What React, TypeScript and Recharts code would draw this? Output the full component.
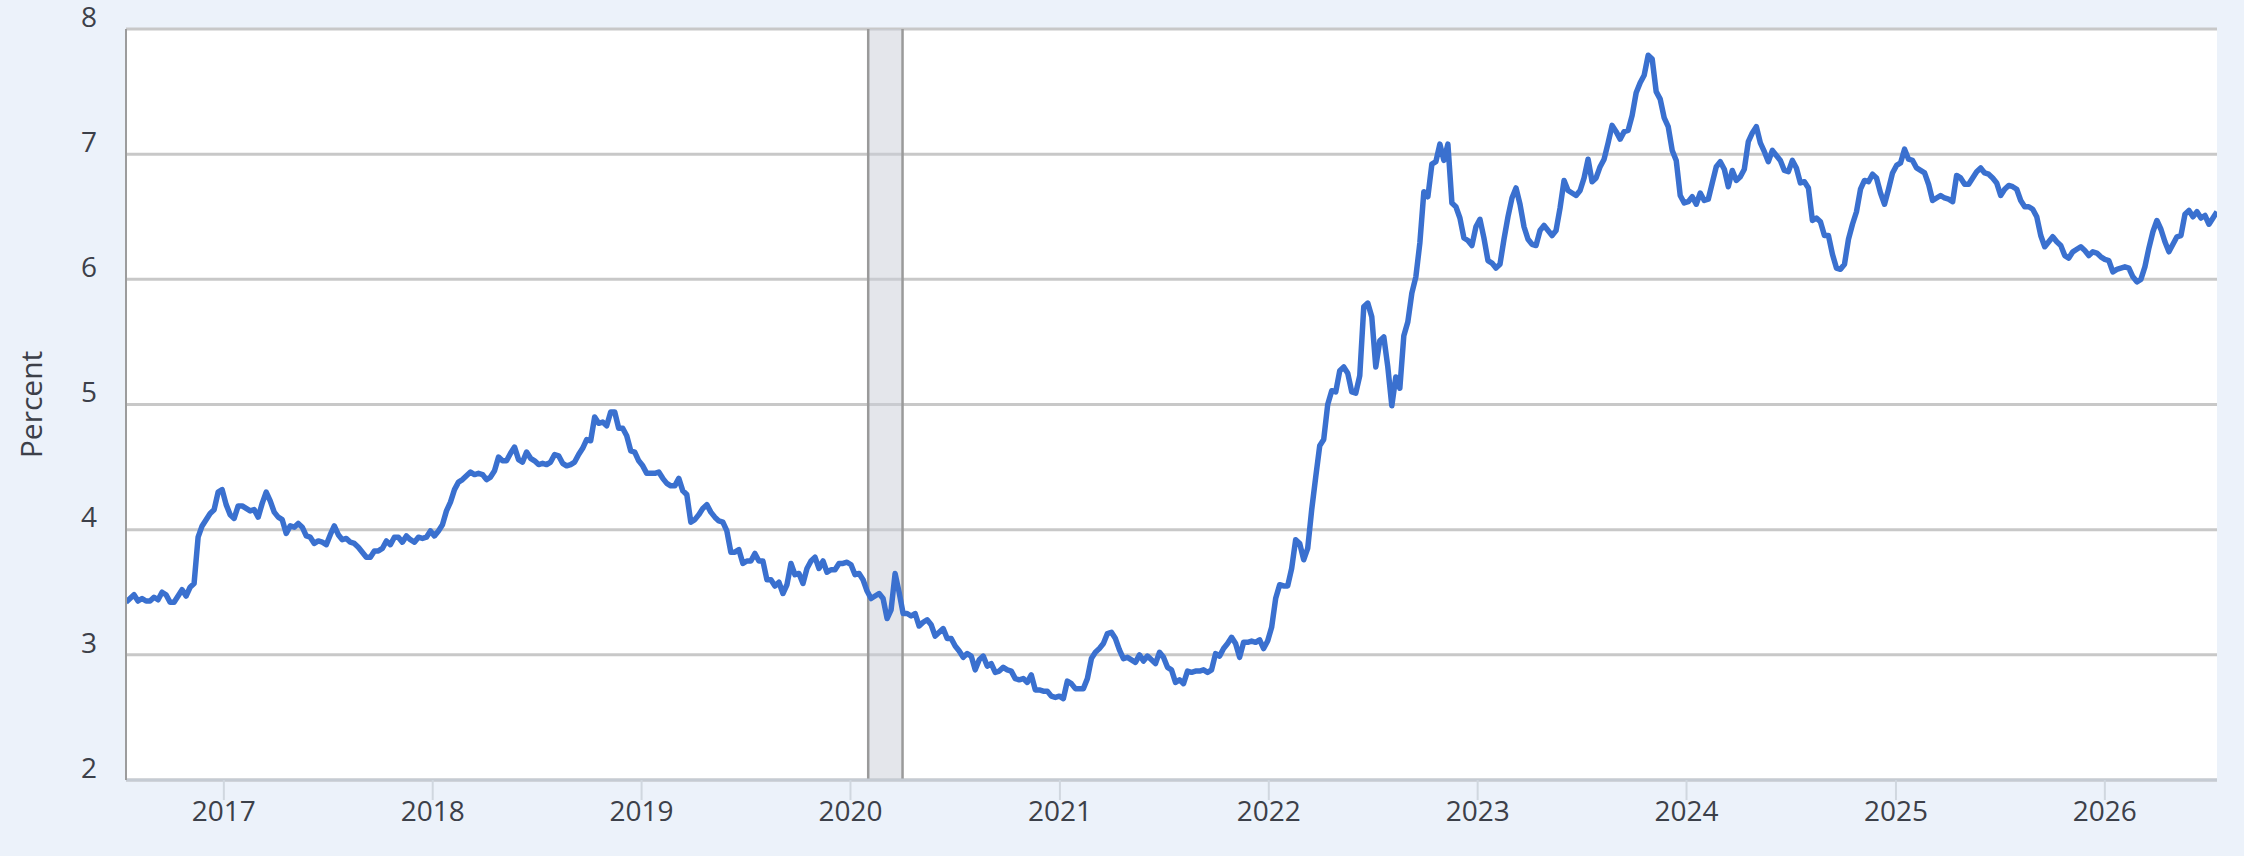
import {
  CartesianGrid,
  Line,
  LineChart,
  ReferenceArea,
  ReferenceLine,
  XAxis,
  YAxis,
} from "recharts";

// weekly 30-year fixed mortgage rate, percent (one array per calendar year)
const rates2016 = [
  3.42, 3.45, 3.48, 3.43, 3.45, 3.43, 3.43, 3.46, 3.44, 3.5, 3.48, 3.42, 3.42,
  3.47, 3.52, 3.47, 3.54, 3.57, 3.94, 4.03, 4.08, 4.13, 4.16, 4.3, 4.32,
];
const rates2017 = [
  4.2, 4.12, 4.09, 4.19, 4.19, 4.17, 4.15, 4.16, 4.1, 4.21, 4.3, 4.23, 4.14,
  4.1, 4.08, 3.97, 4.03, 4.02, 4.05, 4.02, 3.95, 3.94, 3.89, 3.91, 3.9, 3.88,
  3.96, 4.03, 3.96, 3.92, 3.93, 3.9, 3.89, 3.86, 3.82, 3.78, 3.78, 3.83, 3.83,
  3.85, 3.91, 3.88, 3.94, 3.94, 3.9, 3.95, 3.92, 3.9, 3.94, 3.93, 3.94, 3.99,
];
const rates2018 = [
  3.95, 3.99, 4.04, 4.15, 4.22, 4.32, 4.38, 4.4, 4.43, 4.46, 4.44, 4.45, 4.44,
  4.4, 4.42, 4.47, 4.58, 4.55, 4.55, 4.61, 4.66, 4.56, 4.54, 4.62, 4.57, 4.55,
  4.52, 4.53, 4.52, 4.54, 4.6, 4.59, 4.53, 4.51, 4.52, 4.54, 4.6, 4.65, 4.72,
  4.71, 4.9, 4.85, 4.86, 4.83, 4.94, 4.94, 4.81, 4.81, 4.75, 4.63, 4.62, 4.55,
];
const rates2019 = [
  4.51, 4.45, 4.45, 4.45, 4.46, 4.41, 4.37, 4.35, 4.35, 4.41, 4.31, 4.28, 4.06,
  4.08, 4.12, 4.17, 4.2, 4.14, 4.1, 4.07, 4.06, 3.99, 3.82, 3.82, 3.84, 3.73,
  3.75, 3.75, 3.81, 3.75, 3.75, 3.6, 3.6, 3.55, 3.58, 3.49, 3.56, 3.73, 3.64,
  3.65, 3.57, 3.69, 3.75, 3.78, 3.69, 3.75, 3.66, 3.68, 3.68, 3.73, 3.73, 3.74,
];
const rates2020 = [
  3.72, 3.64, 3.65, 3.6, 3.51, 3.45, 3.47, 3.49, 3.45, 3.29, 3.36, 3.65, 3.5,
  3.33, 3.33, 3.31, 3.33, 3.23, 3.26, 3.28, 3.24, 3.15, 3.18, 3.21, 3.13, 3.13,
  3.07, 3.03, 2.98, 3.01, 2.99, 2.88, 2.96, 2.99, 2.91, 2.93, 2.86, 2.87, 2.9,
  2.88, 2.87, 2.81, 2.8, 2.81, 2.78, 2.84, 2.72, 2.72, 2.71, 2.71, 2.67, 2.66,
  2.67,
];
const rates2021 = [
  2.65, 2.79, 2.77, 2.73, 2.73, 2.73, 2.81, 2.97, 3.02, 3.05, 3.09, 3.17, 3.18,
  3.13, 3.04, 2.97, 2.98, 2.96, 2.94, 3.0, 2.95, 2.99, 2.96, 2.93, 3.02, 2.98,
  2.9, 2.88, 2.78, 2.8, 2.77, 2.87, 2.86, 2.87, 2.87, 2.88, 2.86, 2.88, 3.01,
  2.99, 3.05, 3.09, 3.14, 3.09, 2.98, 3.1, 3.1, 3.11, 3.1, 3.12, 3.05, 3.11,
];
const rates2022 = [
  3.22, 3.45, 3.56, 3.55, 3.55, 3.69, 3.92, 3.89, 3.76, 3.85, 4.16, 4.42, 4.67,
  4.72, 5.0, 5.11, 5.1, 5.27, 5.3, 5.25, 5.1, 5.09, 5.23, 5.78, 5.81, 5.7, 5.3,
  5.51, 5.54, 5.3, 4.99, 5.22, 5.13, 5.55, 5.66, 5.89, 6.02, 6.29, 6.7, 6.66,
  6.92, 6.94, 7.08, 6.95, 7.08, 6.61, 6.58, 6.49, 6.33, 6.31, 6.27, 6.42,
];
const rates2023 = [
  6.48, 6.33, 6.15, 6.13, 6.09, 6.12, 6.32, 6.5, 6.65, 6.73, 6.6, 6.42, 6.32,
  6.28, 6.27, 6.39, 6.43, 6.39, 6.35, 6.39, 6.57, 6.79, 6.71, 6.69, 6.67, 6.71,
  6.81, 6.96, 6.78, 6.81, 6.9, 6.96, 7.09, 7.23, 7.18, 7.12, 7.18, 7.19, 7.31,
  7.49, 7.57, 7.63, 7.79, 7.76, 7.5, 7.44, 7.29, 7.22, 7.03, 6.95, 6.67, 6.61,
];
const rates2024 = [
  6.62, 6.66, 6.6, 6.69, 6.63, 6.64, 6.77, 6.9, 6.94, 6.88, 6.74, 6.87, 6.79,
  6.82, 6.88, 7.1, 7.17, 7.22, 7.09, 7.02, 6.94, 7.03, 6.99, 6.95, 6.87, 6.86,
  6.95, 6.89, 6.77, 6.78, 6.73, 6.47, 6.49, 6.46, 6.35, 6.35, 6.2, 6.09, 6.08,
  6.12, 6.32, 6.44, 6.54, 6.72, 6.79, 6.78, 6.84, 6.81, 6.69, 6.6, 6.72, 6.85,
];
const rates2025 = [
  6.91, 6.93, 7.04, 6.96, 6.95, 6.89, 6.87, 6.85, 6.76, 6.63, 6.65, 6.67, 6.65,
  6.64, 6.62, 6.83, 6.81, 6.76, 6.76, 6.81, 6.86, 6.89, 6.85, 6.84, 6.81, 6.77,
  6.67, 6.72, 6.75, 6.74, 6.72, 6.63, 6.58, 6.58, 6.56, 6.5, 6.35, 6.26, 6.3,
  6.34, 6.3, 6.27, 6.19, 6.17, 6.22, 6.24, 6.26, 6.23, 6.19, 6.22, 6.21, 6.18,
];
const rates2026 = [
  6.16, 6.15, 6.06, 6.08, 6.09, 6.1, 6.09, 6.02, 5.98, 6.0, 6.1, 6.25, 6.38,
  6.47, 6.4, 6.3, 6.22, 6.28, 6.34, 6.35, 6.52, 6.55, 6.5, 6.54, 6.49, 6.51,
  6.44, 6.49, 6.54,
];

// first Thursday of each year's series
const yearSeries: [number, number[]][] = [
  [Date.UTC(2016, 6, 14), rates2016],
  [Date.UTC(2017, 0, 5), rates2017],
  [Date.UTC(2018, 0, 4), rates2018],
  [Date.UTC(2019, 0, 3), rates2019],
  [Date.UTC(2020, 0, 2), rates2020],
  [Date.UTC(2021, 0, 7), rates2021],
  [Date.UTC(2022, 0, 6), rates2022],
  [Date.UTC(2023, 0, 5), rates2023],
  [Date.UTC(2024, 0, 4), rates2024],
  [Date.UTC(2025, 0, 2), rates2025],
  [Date.UTC(2026, 0, 1), rates2026],
];

const yearTicks = [2017, 2018, 2019, 2020, 2021, 2022, 2023, 2024, 2025, 2026];
const percentTicks = [2, 3, 4, 5, 6, 7, 8];

const recessionStart = Date.UTC(2020, 1, 1);
const recessionEnd = Date.UTC(2020, 3, 1);

const WEEK = 7 * 24 * 3600 * 1000;

const data = yearSeries.flatMap(([first, values]) =>
  values.map((rate, i) => ({ t: first + i * WEEK, rate }))
);

const FONT = "'Open Sans', 'Noto Sans', sans-serif";
const TEXT = "#3c4049";

const XTick = ({ x, y, payload }: any) => (
  <text
    x={x}
    y={y}
    dy={21}
    textAnchor="middle"
    fill={TEXT}
    fontSize={28}
    fontFamily={FONT}
  >
    {new Date(payload.value).getUTCFullYear()}
  </text>
);

const YTick = ({ x, y, payload }: any) => (
  <text
    x={x - 29}
    y={y - 12}
    dy="0.35em"
    textAnchor="end"
    fill={TEXT}
    fontSize={28}
    fontFamily={FONT}
  >
    {payload.value}
  </text>
);

const PercentLabel = ({ viewBox }: any) => {
  const cy = viewBox ? viewBox.y + viewBox.height / 2 : 404;
  return (
    <text
      transform={`translate(42, ${cy}) rotate(-90)`}
      textAnchor="middle"
      fill={TEXT}
      fontSize={30}
      fontFamily={FONT}
    >
      Percent
    </text>
  );
};

export default function App() {
  return (
    <div
      style={{
        position: "absolute",
        left: 0,
        top: 0,
        width: 2244,
        height: 856,
        background: "#ecf2fa",
      }}
    >
      <LineChart
        width={2244}
        height={856}
        data={data}
        margin={{ top: 29, right: 27, bottom: 0, left: 0 }}
      >
        <CartesianGrid
          vertical={false}
          fill="#ffffff"
          stroke="#c8c8c8"
          strokeWidth={3}
        />
        <XAxis
          type="number"
          dataKey="t"
          domain={[Date.UTC(2016, 6, 14), Date.UTC(2026, 6, 16)]}
          ticks={yearTicks.map((y) => Date.UTC(y, 0, 1))}
          tick={<XTick />}
          tickSize={20}
          tickMargin={0}
          tickLine={{ stroke: "#d0d7df", strokeWidth: 2 }}
          axisLine={{ stroke: "#c5cbd3", strokeWidth: 3 }}
          height={76}
          allowDataOverflow
        />
        <YAxis
          domain={[2, 8]}
          ticks={percentTicks}
          tick={<YTick />}
          tickLine={false}
          tickSize={0}
          tickMargin={0}
          axisLine={{ stroke: "#9c9c9c", strokeWidth: 2 }}
          width={126}
          label={<PercentLabel />}
          allowDataOverflow
        />
        <ReferenceArea
          x1={recessionStart}
          x2={recessionEnd}
          fill="#c9ced8"
          fillOpacity={0.5}
          stroke="none"
        />
        <ReferenceLine x={recessionStart} stroke="#9a9a9a" strokeWidth={2.5} />
        <ReferenceLine x={recessionEnd} stroke="#9a9a9a" strokeWidth={2.5} />
        <Line
          type="linear"
          dataKey="rate"
          stroke="#3a70cf"
          strokeWidth={5.5}
          strokeLinejoin="round"
          dot={false}
          activeDot={false}
          isAnimationActive={false}
        />
      </LineChart>
    </div>
  );
}
